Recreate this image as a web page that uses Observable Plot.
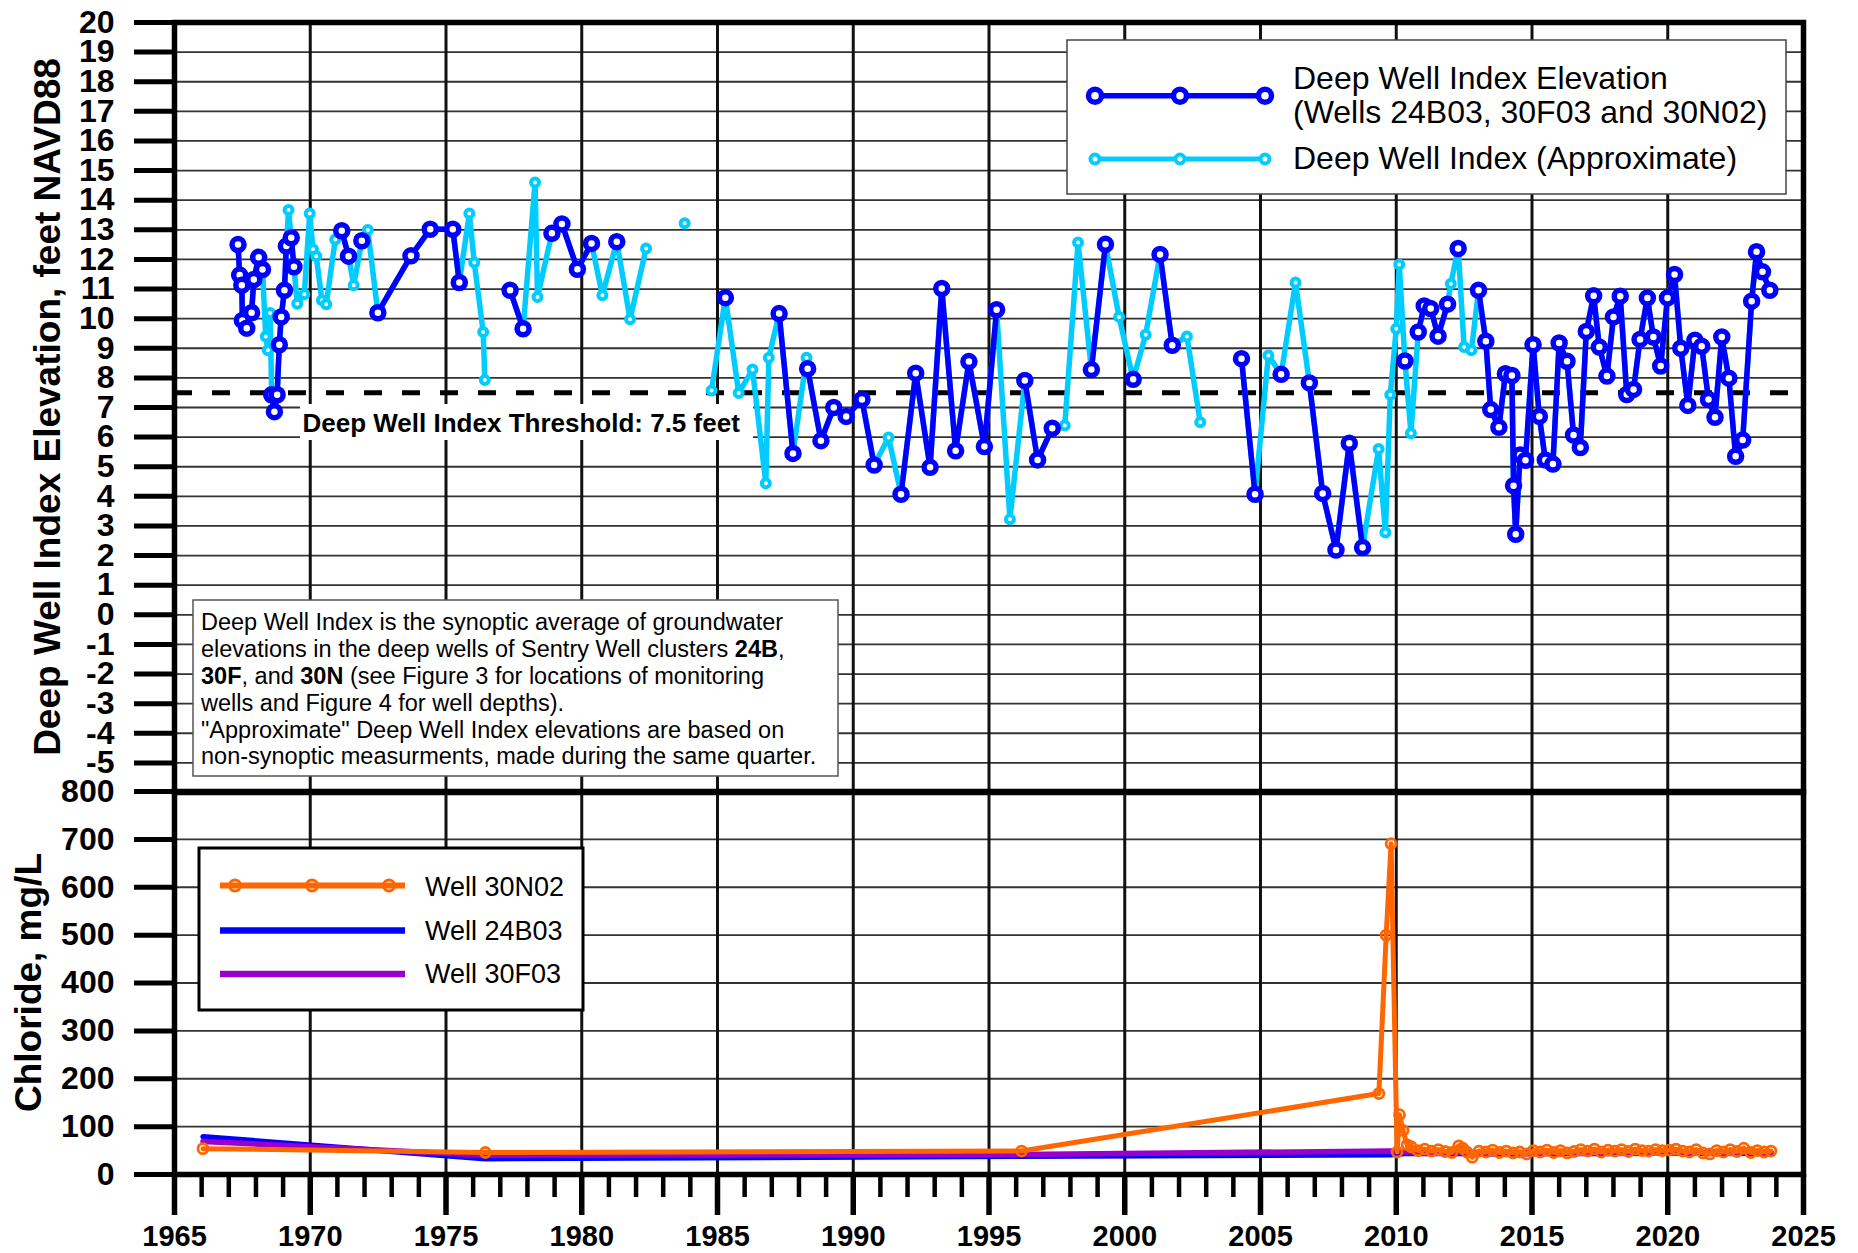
<!DOCTYPE html>
<html>
<head>
<meta charset="utf-8">
<script src="https://cdn.jsdelivr.net/npm/d3@7"></script>
<script src="https://cdn.jsdelivr.net/npm/@observablehq/plot@0.6"></script>
<style>
  body { margin: 0; background: #fff; }
  #wrap { position: relative; width: 1858px; height: 1253px; background: #fff; overflow: hidden;
          font-family: "Liberation Sans", Arial, Helvetica, sans-serif; }
  #wrap svg { position: absolute; left: 0; overflow: visible; }
</style>
</head>
<body>
<div id="wrap"></div>
<script>
// ---------------- DATA ----------------
// Deep Well Index Elevation (synoptic, Wells 24B03, 30F03 and 30N02), feet NAVD88
const synYear = [1967.34,1967.40,1967.48,1967.50,1967.66,1967.84,1967.92,1968.10,1968.24,
  1968.58,1968.68,1968.78,1968.86,1968.93,1969.05,1969.12,1969.30,1969.40,
  1971.16,1971.41,1971.90,1972.49,1973.71,1974.42,1975.25,1975.49,
  1977.36,1977.84,1978.90,1979.27,1979.84,1980.36,1981.29,
  1985.29,
  1987.27,1987.78,1988.32,1988.81,1989.28,1989.74,1990.32,1990.77,
  1991.76,1992.30,1992.83,1993.26,1993.77,1994.26,1994.83,1995.28,
  1996.32,1996.79,1997.33,
  1998.77,1999.29,2000.31,2001.30,2001.75,
  2004.30,2004.80,2005.76,2006.80,2007.29,2007.78,2008.27,2008.76,
  2010.32,2010.81,2011.03,2011.27,2011.54,2011.89,
  2012.28,
  2013.03,2013.30,2013.48,2013.78,2014.02,2014.26,2014.32,2014.40,2014.56,2014.76,
  2015.04,2015.27,2015.49,2015.77,2016.00,2016.29,2016.53,2016.78,2017.00,2017.27,2017.48,2017.76,
  2018.00,2018.25,2018.49,2018.74,2018.98,2019.25,2019.47,2019.74,2019.99,2020.25,2020.48,2020.74,
  2021.00,2021.25,2021.50,2021.74,2021.99,2022.25,2022.50,2022.76,2023.09,2023.27,2023.49,2023.76];
const synElev = [12.50,11.47,11.13,9.94,9.68,10.20,11.32,12.07,11.66,
  7.43,6.86,7.43,9.12,10.06,10.96,12.45,12.73,11.75,
  12.97,12.11,12.63,10.20,12.12,13.02,13.02,11.22,
  10.96,9.66,12.88,13.20,11.67,12.54,12.60,
  10.71,
  10.17,5.45,8.31,5.88,7.00,6.70,7.27,5.06,
  4.07,8.16,4.98,11.02,5.54,8.55,5.68,10.30,
  7.91,5.23,6.30,
  8.28,12.51,7.95,12.17,9.10,
  8.65,4.07,8.12,7.83,4.10,2.19,5.79,2.27,
  8.57,9.55,10.43,10.34,9.41,10.49,
  12.37,
  10.96,9.24,6.93,6.33,8.14,8.08,4.36,2.72,5.40,5.22,
  9.12,6.70,5.23,5.09,9.18,8.56,6.07,5.65,9.57,10.77,9.04,8.06,
  10.06,10.76,7.44,7.61,9.30,10.70,9.38,8.40,10.70,11.49,9.00,7.07,
  9.27,9.07,7.27,6.67,9.38,7.99,5.35,5.90,10.59,12.26,11.58,10.96];

// Deep Well Index (Approximate), feet NAVD88
const apxYear = [1968.36,1968.44,1968.52,1969.20,1969.52,1969.78,1969.98,1970.10,1970.22,1970.43,1970.59,1970.92,
  1971.60,1972.12,1975.86,1976.04,1976.37,1976.43,1978.28,1978.37,1980.76,1981.78,1982.37,1983.79,
  1984.78,1985.78,1986.29,1986.78,1986.89,1988.28,1991.30,1995.77,1997.79,1998.28,1999.79,2000.77,
  2002.29,2002.78,2005.29,2006.29,2009.35,2009.60,2009.78,2010.00,2010.11,2010.54,2012.01,2012.50,2012.77];
const apxElev = [9.40,8.93,10.19,13.67,10.50,10.82,13.55,12.34,12.11,10.62,10.49,12.67,
  11.13,12.99,13.55,11.90,9.55,7.93,14.60,10.73,10.79,9.98,12.37,13.22,
  7.57,7.49,8.28,4.44,8.68,8.68,5.99,3.23,6.39,12.57,10.06,9.46,
  9.40,6.50,8.76,11.22,5.60,2.78,7.43,9.66,11.83,6.13,11.18,9.04,8.93];

// Breaks in the record (no line drawn across them)
const gapYears = [1976.9, 1983.1, 1984.3, 2003.5];

const threshold = 7.5;

// Chloride, mg/L
const cl30NYear = [1966.05,1976.45,1996.20,2009.36,2009.63,2009.81,2010.03,2010.12,2010.25,2010.40,
  2010.55,2010.80,2011.05,2011.30,2011.55,2011.80,2012.05,2012.30,2012.45,2012.60,2012.80,
  2013.05,2013.30,2013.55,2013.80,2014.05,2014.30,2014.55,2014.80,2015.05,2015.30,2015.55,2015.80,
  2016.05,2016.30,2016.55,2016.80,2017.05,2017.30,2017.55,2017.80,2018.05,2018.30,2018.55,2018.80,
  2019.05,2019.30,2019.55,2019.80,2020.05,2020.30,2020.55,2020.80,2021.05,2021.30,2021.55,2021.80,
  2022.05,2022.30,2022.55,2022.80,2023.05,2023.30,2023.55,2023.80];
const cl30NValue = [54,46,49,169,500,691,47,125,92,62,
  58,50,53,49,52,48,46,60,55,47,36,
  49,47,51,46,49,45,47,43,50,47,51,46,
  50,45,48,52,49,53,47,51,49,52,48,53,
  50,49,52,50,51,53,49,47,52,45,43,50,
  47,52,48,55,46,50,47,49];
const cl24BYear = [1966.05,1976.45,1996.20,2009.81,2010.30,2012.00,2014.00,2016.00,2018.00,2020.00,2022.00,2023.80];
const cl24BValue = [79,33,38,41,44,44,43,44,44,45,44,45];
const cl30FYear = [1966.05,1976.45,1996.20,2009.81,2010.30,2012.00,2014.00,2016.00,2018.00,2020.00,2022.00,2023.80];
const cl30FValue = [69,40,42,49,47,46,46,46,47,46,46,47];

// Tick values
const yTicksTop = d3.range(-5, 21);
const yTicksBottom = d3.range(0, 801, 100);
const xMajor = d3.range(1965, 2026, 5);
const xMinor = d3.range(1966, 2025).filter(y => y % 5 !== 0);

// ---------------- STYLE ----------------
const FONT = '"Liberation Sans", Arial, Helvetica, sans-serif';
const BLUE = "#0000ff", CYAN = "#00ccff", ORANGE = "#ff6600", PURPLE = "#9900cc";
const W = 1858;

const rows = [
  ...synYear.map((year, i) => ({year, elev: synElev[i], kind: "S"})),
  ...apxYear.map((year, i) => ({year, elev: apxElev[i], kind: "A"})),
  ...gapYears.map(year => ({year, elev: NaN, kind: "G"}))
].sort((a, b) => a.year - b.year);

const cl30N = cl30NYear.map((year, i) => ({year, v: cl30NValue[i]}));
const cl24B = cl24BYear.map((year, i) => ({year, v: cl24BValue[i]}));
const cl30F = cl30FYear.map((year, i) => ({year, v: cl30FValue[i]}));

const wrap = document.getElementById("wrap");

// ---------------- TOP PANEL ----------------
const topPlot = Plot.plot({
  width: W, height: 792,
  marginLeft: 174, marginRight: 55, marginTop: 22, marginBottom: 0,
  style: {background: "transparent", overflow: "visible", fontFamily: FONT, color: "black"},
  x: {domain: [1965, 2025], axis: null},
  y: {domain: [-6, 20]},
  marks: [
    Plot.ruleY(d3.range(-5, 20), {stroke: "#333", strokeWidth: 1.8}),
    Plot.ruleX(d3.range(1970, 2025, 5), {stroke: "#111", strokeWidth: 3}),
    Plot.ruleY([threshold], {stroke: "black", strokeWidth: 5, strokeDasharray: "18,20"}),
    Plot.line(rows, {x: "year", y: "elev", stroke: CYAN, strokeWidth: 5.5}),
    Plot.line(rows, {x: "year", y: d => d.kind === "S" ? d.elev : NaN, stroke: BLUE, strokeWidth: 5.5}),
    Plot.dot(rows.filter(d => d.kind === "A"), {x: "year", y: "elev", r: 4, stroke: CYAN, strokeWidth: 4, fill: "white"}),
    Plot.dot(rows.filter(d => d.kind === "S"), {x: "year", y: "elev", r: 6, stroke: BLUE, strokeWidth: 5.5, fill: "white"}),
    Plot.frame({stroke: "black", strokeWidth: 5.5}),
    Plot.axisY(yTicksTop, {tickSize: 40, tickPadding: 20, strokeWidth: 5, fontSize: 32, fontWeight: "bold",
      tickFormat: d => String(d), label: null})
  ]
});
topPlot.style.top = "0px";
wrap.appendChild(topPlot);

// ---------------- BOTTOM PANEL ----------------
const botPlot = Plot.plot({
  width: W, height: 482,
  marginLeft: 174, marginRight: 55, marginTop: 20, marginBottom: 79,
  style: {background: "transparent", overflow: "visible", fontFamily: FONT, color: "black"},
  x: {domain: [1965, 2025]},
  y: {domain: [0, 800]},
  marks: [
    Plot.ruleY(d3.range(100, 800, 100), {stroke: "#333", strokeWidth: 1.8}),
    Plot.ruleX(d3.range(1970, 2025, 5), {stroke: "#111", strokeWidth: 3}),
    Plot.line(cl24B, {x: "year", y: "v", stroke: BLUE, strokeWidth: 5.5}),
    Plot.line(cl30F, {x: "year", y: "v", stroke: PURPLE, strokeWidth: 5.5}),
    Plot.line(cl30N, {x: "year", y: "v", stroke: ORANGE, strokeWidth: 5}),
    Plot.dot(cl30N, {x: "year", y: "v", r: 5, stroke: ORANGE, strokeWidth: 2.8, fill: "none"}),
    Plot.frame({stroke: "black", strokeWidth: 5.5}),
    Plot.axisY(yTicksBottom, {tickSize: 40, tickPadding: 20, strokeWidth: 5, fontSize: 32, fontWeight: "bold",
      tickFormat: d => String(d), label: null}),
    Plot.axisX(xMajor, {tickSize: 41, tickPadding: 10, strokeWidth: 5.5, fontSize: 29, fontWeight: "bold",
      tickFormat: d => String(d), label: null}),
    Plot.axisX(xMinor, {tickSize: 23, strokeWidth: 4.5, tickFormat: () => "", label: null})
  ]
});
botPlot.style.top = "771px";
wrap.appendChild(botPlot);

// ---------------- ANNOTATIONS ----------------
const ts = d3.select(topPlot);
const bs = d3.select(botPlot);

function addText(sel, x, y, s, size, weight) {
  return sel.append("text").attr("x", x).attr("y", y).attr("dy", "0.35em")
    .attr("text-anchor", "start").attr("font-size", size).attr("font-weight", weight || "normal")
    .attr("font-family", FONT).attr("fill", "black").text(s);
}

// axis titles
ts.append("text").attr("transform", "translate(60,407) rotate(-90)")
  .attr("text-anchor", "middle").attr("font-size", 37).attr("font-weight", "bold")
  .attr("font-family", FONT).attr("fill", "black")
  .text("Deep Well Index Elevation, feet NAVD88");
bs.append("text").attr("transform", "translate(41,211.5) rotate(-90)")
  .attr("text-anchor", "middle").attr("font-size", 37).attr("font-weight", "bold")
  .attr("font-family", FONT).attr("fill", "black")
  .text("Chloride, mg/L");

// threshold label
ts.append("rect").attr("x", 300).attr("y", 404).attr("width", 453).attr("height", 36).attr("fill", "white");
addText(ts, 302.5, 422.7, "Deep Well Index Threshold: 7.5 feet", 26, "bold");

// explanatory note
const noteLines = [
  [["Deep Well Index is the synoptic average of groundwater", false]],
  [["elevations in the deep wells of Sentry Well clusters ", false], ["24B", true], [",", false]],
  [["30F", true], [", and ", false], ["30N", true], [" (see Figure 3 for locations of monitoring", false]],
  [["wells and Figure 4 for well depths).", false]],
  [["\"Approximate\" Deep Well Index elevations are based on", false]],
  [["non-synoptic measurments, made during the same quarter.", false]]
];
ts.append("rect").attr("x", 193).attr("y", 600).attr("width", 645).attr("height", 176)
  .attr("fill", "white").attr("stroke", "#555").attr("stroke-width", 1.5);
noteLines.forEach((segs, i) => {
  const t = ts.append("text").attr("x", 201).attr("y", 621.7 + i * 26.9).attr("dy", "0.35em")
    .attr("text-anchor", "start").attr("font-size", 23.5).attr("font-family", FONT).attr("fill", "black");
  segs.forEach(([s, b]) => t.append("tspan").attr("font-weight", b ? "bold" : "normal").text(s));
});

// top legend
ts.append("rect").attr("x", 1067).attr("y", 40).attr("width", 719).attr("height", 154)
  .attr("fill", "white").attr("stroke", "#444").attr("stroke-width", 1.5);
function legendLine(sel, x1, x2, y, color, w) {
  sel.append("line").attr("x1", x1).attr("x2", x2).attr("y1", y).attr("y2", y)
    .attr("stroke", color).attr("stroke-width", w);
}
function legendRing(sel, cx, cy, r, color, w, fill) {
  sel.append("circle").attr("cx", cx).attr("cy", cy).attr("r", r)
    .attr("fill", fill).attr("stroke", color).attr("stroke-width", w);
}
legendLine(ts, 1095, 1265, 95.7, BLUE, 5.5);
[1095, 1180, 1265].forEach(cx => legendRing(ts, cx, 95.7, 6.5, BLUE, 5.5, "white"));
legendLine(ts, 1095, 1265, 159, CYAN, 5);
[1095, 1180, 1265].forEach(cx => legendRing(ts, cx, 159, 4.5, CYAN, 4, "white"));
[["Deep Well Index Elevation", 78], ["(Wells 24B03, 30F03 and 30N02)", 112], ["Deep Well Index (Approximate)", 158]]
  .forEach(([s, y]) => addText(ts, 1293, y, s, 32));

// bottom legend
bs.append("rect").attr("x", 199).attr("y", 77).attr("width", 384).attr("height", 162)
  .attr("fill", "white").attr("stroke", "black").attr("stroke-width", 3);
legendLine(bs, 220, 405, 114.5, ORANGE, 6);
[235, 312, 389].forEach(cx => legendRing(bs, cx, 114.5, 5.5, ORANGE, 3, "none"));
legendLine(bs, 220, 405, 159.5, BLUE, 6.5);
legendLine(bs, 220, 405, 203, PURPLE, 6.5);
[["Well 30N02", 115.5], ["Well 24B03", 159.5], ["Well 30F03", 203]]
  .forEach(([s, y]) => addText(bs, 425, y, s, 27));
</script>
</body>
</html>
